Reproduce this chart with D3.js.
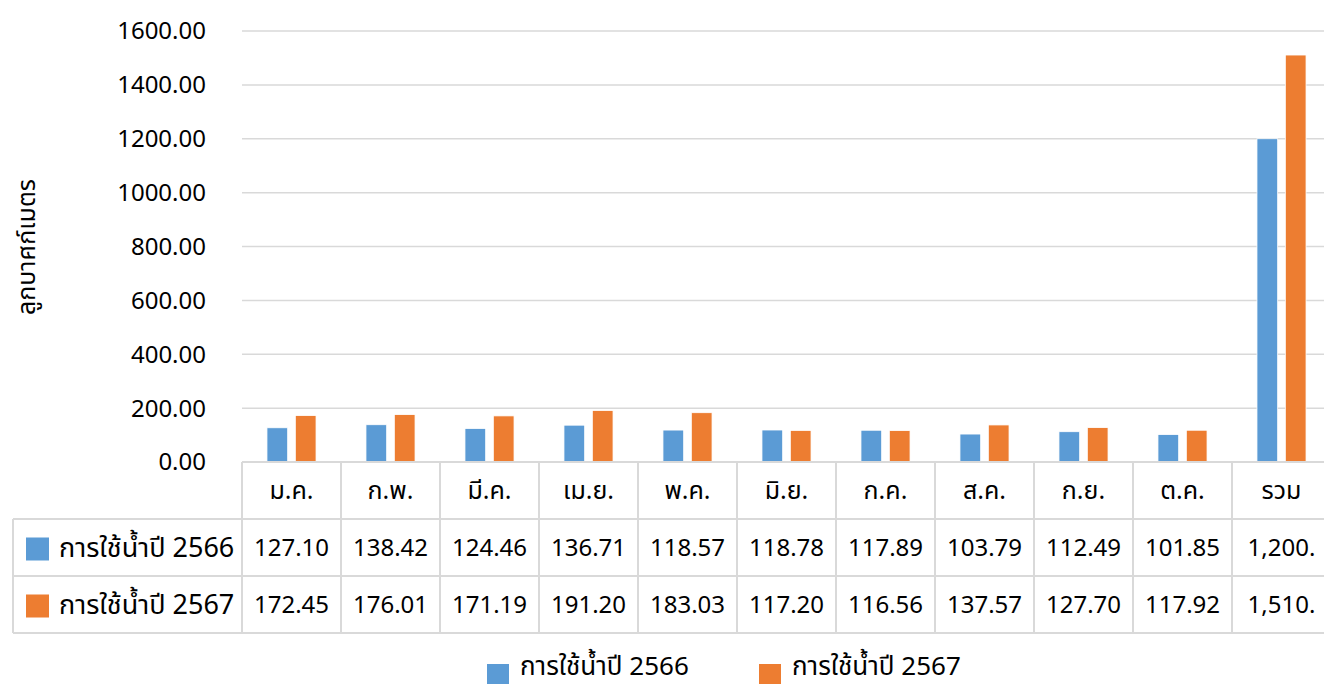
<!DOCTYPE html>
<html>
<head>
<meta charset="utf-8">
<script src="https://cdn.jsdelivr.net/npm/d3@7"></script>
<style>
  body { margin: 0; background: #fff; }
  svg text { font-family: "Noto Sans Thai", "Noto Sans", "DejaVu Sans", sans-serif; font-size: 24px; fill: #000; }
  svg text.thai-label { font-size: 25px; }
  svg text.series-label { font-size: 27px; }
  svg text.legend-label { font-size: 26px; }
</style>
</head>
<body>
<svg id="chart" width="1324" height="689"></svg>
<script>
// ข้อมูลการใช้น้ำ
const categories = ['ม.ค.', 'ก.พ.', 'มี.ค.', 'เม.ย.', 'พ.ค.', 'มิ.ย.', 'ก.ค.', 'ส.ค.', 'ก.ย.', 'ต.ค.', 'รวม'];
const seriesNames = ['การใช้น้ำปี 2566', 'การใช้น้ำปี 2567'];
const water2566 = [127.10, 138.42, 124.46, 136.71, 118.57, 118.78, 117.89, 103.79, 112.49, 101.85, 1200.06];
const water2567 = [172.45, 176.01, 171.19, 191.20, 183.03, 117.20, 116.56, 137.57, 127.70, 117.92, 1510.83];
const yTicks = [0, 200, 400, 600, 800, 1000, 1200, 1400, 1600];
const yTitle = 'ลูกบาศก์เมตร';
const colors = ['#5B9BD5', '#ED7D31'];

const svg = d3.select('#chart');
const plot = { left: 242, right: 1331, top: 31, bottom: 462 };
const rowH = 57;
const tableLeft = 13;

const x = d3.scaleBand().domain(categories).range([plot.left, plot.right]).paddingInner(0).paddingOuter(0);
const inner = d3.scaleBand().domain([0, 1]).range([0, x.bandwidth()]).paddingInner(0.27).paddingOuter(0.88);
const y = d3.scaleLinear().domain([0, 1600]).range([plot.bottom, plot.top]);

// เส้นกริด
svg.append('g').selectAll('line').data(yTicks.slice(1)).enter().append('line')
    .attr('x1', plot.left).attr('x2', plot.right)
    .attr('y1', d => y(d)).attr('y2', d => y(d))
    .attr('stroke', '#D9D9D9').attr('stroke-width', 1.5);

// ป้ายแกน Y
svg.append('g').selectAll('text').data(yTicks).enter().append('text')
    .attr('x', 206).attr('y', d => y(d))
    .attr('dy', '0.35em').attr('text-anchor', 'end')
    .text(d => d3.format('.2f')(d));

svg.append('text')
    .attr('class', 'thai-label')
    .attr('transform', 'translate(35,247) rotate(-90)')
    .attr('text-anchor', 'middle')
    .text(yTitle);

// แท่งกราฟ
const series = [water2566, water2567];
series.forEach((vals, si) => {
    svg.append('g').selectAll('rect').data(vals).enter().append('rect')
        .attr('x', (d, i) => x(categories[i]) + inner(si))
        .attr('width', inner.bandwidth())
        .attr('y', d => y(d))
        .attr('height', d => y(0) - y(d))
        .attr('fill', colors[si])
        .attr('stroke', '#fff').attr('stroke-width', 0.8);
});

// ตารางข้อมูล
const table = svg.append('g');
const border = '#D9D9D9';
const tBottom = plot.bottom + rowH * 3;
// เส้นแนวนอน
[plot.bottom, plot.bottom + rowH, plot.bottom + rowH * 2, tBottom].forEach((yy, k) => {
    table.append('line')
        .attr('x1', k === 0 ? plot.left : tableLeft).attr('x2', plot.right)
        .attr('y1', yy).attr('y2', yy)
        .attr('stroke', border).attr('stroke-width', 2);
});
// เส้นแนวตั้ง
categories.concat(['__end']).forEach((c, i) => {
    const xx = i < categories.length ? x(c) : plot.right;
    table.append('line')
        .attr('x1', xx).attr('x2', xx)
        .attr('y1', plot.bottom).attr('y2', tBottom)
        .attr('stroke', border).attr('stroke-width', 2);
});
table.append('line')
    .attr('x1', tableLeft).attr('x2', tableLeft)
    .attr('y1', plot.bottom + rowH).attr('y2', tBottom)
    .attr('stroke', border).attr('stroke-width', 2);

// หัวตาราง (เดือน)
table.append('g').selectAll('text').data(categories).enter().append('text')
    .attr('class', 'thai-label')
    .attr('x', d => x(d) + x.bandwidth() / 2)
    .attr('y', plot.bottom + rowH / 2)
    .attr('dy', '0.35em').attr('text-anchor', 'middle')
    .text(d => d);

// ตัวเลขในตาราง (Excel ตัดค่าที่ยาวเกินช่อง)
const fmt = v => {
    const s = d3.format(',.2f')(v);
    return s.length > 6 && v >= 1000 ? s.slice(0, 6) : s;
};
series.forEach((vals, si) => {
    const rowY = plot.bottom + rowH * (si + 1) + rowH / 2;
    table.append('rect')
        .attr('x', 26).attr('y', rowY - 10).attr('width', 23).attr('height', 23)
        .attr('fill', colors[si]);
    table.append('text')
        .attr('class', 'series-label')
        .attr('x', 59).attr('y', rowY).attr('dy', '0.35em')
        .text(seriesNames[si]);
    table.append('g').selectAll('text').data(vals).enter().append('text')
        .attr('x', (d, i) => x(categories[i]) + x.bandwidth() / 2)
        .attr('y', rowY).attr('dy', '0.35em').attr('text-anchor', 'middle')
        .text(d => fmt(d));
});

// คำอธิบาย
const legend = svg.append('g');
const legendX = [487, 759];
seriesNames.forEach((name, si) => {
    legend.append('rect')
        .attr('x', legendX[si]).attr('y', 664).attr('width', 22).attr('height', 20)
        .attr('fill', colors[si]);
    legend.append('text')
        .attr('class', 'legend-label')
        .attr('x', legendX[si] + 33).attr('y', 666).attr('dy', '0.35em')
        .text(name);
});
</script>
</body>
</html>
